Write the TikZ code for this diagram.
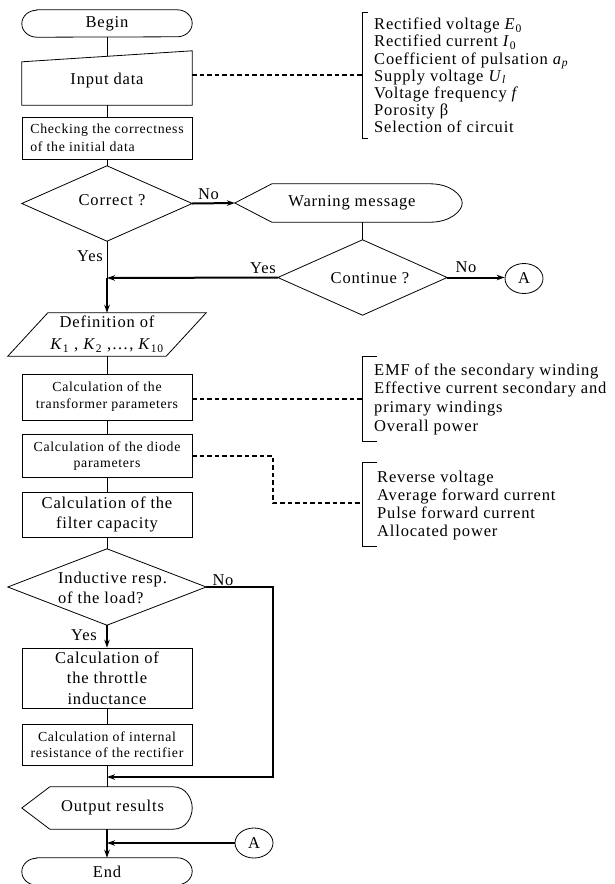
\documentclass[tikz,border=0pt]{standalone}
\usepackage{fontspec}
\setmainfont[LetterSpace=5]{Liberation Serif}
\usetikzlibrary{arrows.meta,calc,shapes.geometric}
\newcommand\fbig{\fontsize{16.5}{20}\selectfont}
\newcommand\fsmall{\fontsize{13.8}{17}\selectfont}
\newcommand\fsmallb{\fontsize{13.8}{16}\selectfont}
\newcommand\fcheck{\fontsize{13.8}{18}\selectfont}
\newcommand\fdefn{\fontsize{16.5}{22}\selectfont}
\newcommand\fthr{\fontsize{16.5}{20.5}\selectfont}
\newcommand\flista{\fontsize{16.5}{17.2}\selectfont}
\newcommand\flistb{\fontsize{16.5}{18.7}\selectfont}
\newcommand\flistc{\fontsize{16.5}{18.3}\selectfont}
\begin{document}
\begin{tikzpicture}[x=1pt,y=-1pt,
  ln/.style={line width=0.8pt},
  heavy/.style={line width=2pt},
  arr/.style={-{Stealth[length=8pt,width=5.5pt]}},
  dline/.style={line width=1.5pt, dash pattern=on 4.5pt off 3pt},
  box/.style={draw, line width=0.8pt, minimum width=170pt, inner sep=0pt, align=center},
  blank/.style={inner sep=0pt, align=center, font=\fbig},
  lbl/.style={inner sep=0pt, font=\fbig},
  circ/.style={draw, ellipse, line width=0.8pt, minimum width=38pt, minimum height=30pt, inner sep=0pt, font=\fbig}]
\useasboundingbox (0,0) rectangle (614,884);

% ---------- nodes ----------
\node[blank, minimum width=170pt, minimum height=27pt] (begin) at (107,23.5) {Begin};
\node[blank, minimum width=170pt, minimum height=48.5pt] (input) at (107,80.75) {Input data};
\node[box, minimum height=42pt, font=\fcheck, align=left] (check) at (107,138) {Checking the correctness\\of the initial data};
\node[blank, minimum width=170pt, minimum height=75pt] (correct) at (107,203.5) {};
\node[lbl] (correcttxt) at (112,200) {Correct ?};
\node[blank, minimum width=227pt, minimum height=38pt] (warn) at (348.5,203) {};
\node[lbl] (warntxt) at (352,203) {Warning message};
\node[blank, minimum width=169pt, minimum height=75pt] (cont) at (362.5,277.5) {};
\node[lbl] (conttxt) at (370,278) {Continue ?};
\node[circ] (A1) at (524,278.5) {A};
\coordinate (merge) at (107,278);
\node[blank, minimum width=198pt, minimum height=43pt, font=\fdefn] (def) at (107,334.5) {Definition of\\ \textit{K}\textsubscript{1} , \textit{K}\textsubscript{2} ,…, \textit{K}\textsubscript{10}};
\node[box, minimum height=46pt, font=\fsmall] (trans) at (107,397) {Calculation of the\\transformer parameters};
\node[box, minimum height=43pt, font=\fsmallb] (diode) at (107,456) {Calculation of the diode\\parameters};
\node[box, minimum height=45pt, font=\fbig] (filter) at (107,514.5) {Calculation of the\\filter capacity};
\node[blank, minimum width=198pt, minimum height=76pt] (induct) at (107,587) {};
\node[lbl, align=left] (inducttxt) at (112.5,588) {Inductive resp.\\of the load?};
\node[box, minimum height=60pt, font=\fthr] (throttle) at (107,678) {Calculation of\\the throttle\\inductance};
\node[box, minimum height=41pt, font=\fsmallb] (internal) at (107,744.5) {Calculation of internal\\resistance of the rectifier};
\coordinate (join) at (107,777);
\coordinate (nr) at (273,777);
\node[blank, minimum width=170pt, minimum height=42pt] (output) at (107,808) {};
\node[lbl] (outputtxt) at (112.5,808) {Output results};
\node[circ] (A2) at (254,843) {A};
\coordinate (join2) at (107,843);
\node[blank, minimum width=170pt, minimum height=27pt] (end) at (107,871.5) {End};

% lists
\node[lbl, anchor=west, align=left, font=\flista] (list1) at (374,75.5) {Rectified voltage \textit{E}\textsubscript{0}\\Rectified current \textit{I}\textsubscript{0}\\Coefficient of pulsation \textit{a}\textsubscript{\textit{p}}\\Supply voltage \textit{U}\textsubscript{\textit{l}}\\Voltage frequency \textit{f}\\Porosity β\\Selection of circuit};
\node[lbl, anchor=west, align=left, font=\flistb] (list2) at (374,399) {EMF of the secondary winding\\Effective current secondary and\\primary windings\\Overall power};
\node[lbl, anchor=west, align=left, font=\flistc] (list3) at (377,505.5) {Reverse voltage\\Average forward current\\Pulse forward current\\Allocated power};
\coordinate (b1) at (362,75);
\coordinate (b2) at (362,399);
\coordinate (b3) at (362,503);
\coordinate (dk) at (273,503);

% ---------- outlines ----------
\draw[ln] ([xshift=15pt]begin.north west) -- ([xshift=-15pt]begin.north east) arc[start angle=90,end angle=-90,x radius=15pt,y radius=13.5pt] -- ([xshift=15pt]begin.south west) arc[start angle=270,end angle=90,x radius=15pt,y radius=13.5pt] -- cycle;
\draw[ln] ([xshift=15pt]end.north west) -- ([xshift=-15pt]end.north east) arc[start angle=90,end angle=-90,x radius=15pt,y radius=13.5pt] -- ([xshift=15pt]end.south west) arc[start angle=270,end angle=90,x radius=15pt,y radius=13.5pt] -- cycle;
\draw[ln] ([yshift=-5.5pt]input.north west) -- ([yshift=5.5pt]input.north east) -- (input.south east) -- (input.south west) -- cycle;
\draw[ln] (correct.north) -- (correct.east) -- (correct.south) -- (correct.west) -- cycle;
\draw[ln] (cont.north) -- (cont.east) -- (cont.south) -- (cont.west) -- cycle;
\draw[ln] (induct.north) -- (induct.east) -- (induct.south) -- (induct.west) -- cycle;
\draw[ln] (warn.west) -- ([xshift=37pt]warn.north west) -- ([xshift=-32pt]warn.north east) .. controls ([xshift=-12pt]warn.north east) and ([yshift=8pt]warn.east) .. (warn.east) .. controls ([yshift=-8pt]warn.east) and ([xshift=-12pt]warn.south east) .. ([xshift=-32pt]warn.south east) -- ([xshift=37pt]warn.south west) -- cycle;
\draw[ln] ([xshift=40pt]def.north west) -- (def.north east) -- ([xshift=-40pt]def.south east) -- (def.south west) -- cycle;
\draw[ln] (output.west) -- ([xshift=28pt]output.north west) -- ([xshift=-19pt]output.north east) .. controls ([xshift=-6pt]output.north east) and ([yshift=9pt]output.east) .. (output.east) .. controls ([yshift=-9pt]output.east) and ([xshift=-6pt]output.south east) .. ([xshift=-19pt]output.south east) -- ([xshift=28pt]output.south west) -- cycle;

% brackets
\draw[ln] (368,12) -- (362,12) -- (362,138) -- (368,138);
\draw[ln] (377,356) -- (362,356) -- (362,441) -- (377,441);
\draw[ln] (377,462) -- (362,462) -- (362,546) -- (377,546);

% ---------- connectors ----------
\draw[ln] (begin.south) -- (input.north);
\draw[ln] (input.south) -- (check.north);
\draw[ln] (check.south) -- (correct.north);
\draw[heavy,arr] (correct.east) -- (warn.west);
\draw[ln] (correct.south) -- (merge);
\draw[heavy,arr] (merge) -- (def.north);
\draw[ln] (cont.north |- warn.south) -- (cont.north);
\draw[heavy,arr] (cont.west) -- (merge);
\draw[heavy,arr] (cont.east) -- (cont.east -| A1.west);
\draw[ln] (def.south) -- (trans.north);
\draw[ln] (trans.south) -- (diode.north);
\draw[ln] (diode.south) -- (filter.north);
\draw[ln] (filter.south) -- (induct.north);
\draw[dline] (input.east |- b1) -- (b1);
\draw[dline] (trans.east |- b2) -- (b2);
\draw[dline] (diode.east) -| (dk) -- (b3);
\draw[heavy,arr] (induct.east) -| (nr) -- (join);
\draw[line width=1.2pt,arr] (induct.south) -- (throttle.north);
\draw[ln] (throttle.south) -- (internal.north);
\draw[ln] (internal.south) -- (output.north);
\draw[heavy,arr] (output.south) -- (end.north);
\draw[heavy,arr] (A2.west) -- (join2);

% labels
\node[lbl] (no1) at (208.5,194) {No};
\node[lbl] (yes1) at (90,256) {Yes};
\node[lbl] (yes2) at (263,268) {Yes};
\node[lbl] (no2) at (466,267) {No};
\node[lbl] (no3) at (223,580) {No};
\node[lbl] (yes3) at (84,635) {Yes};
\end{tikzpicture}
\end{document}
